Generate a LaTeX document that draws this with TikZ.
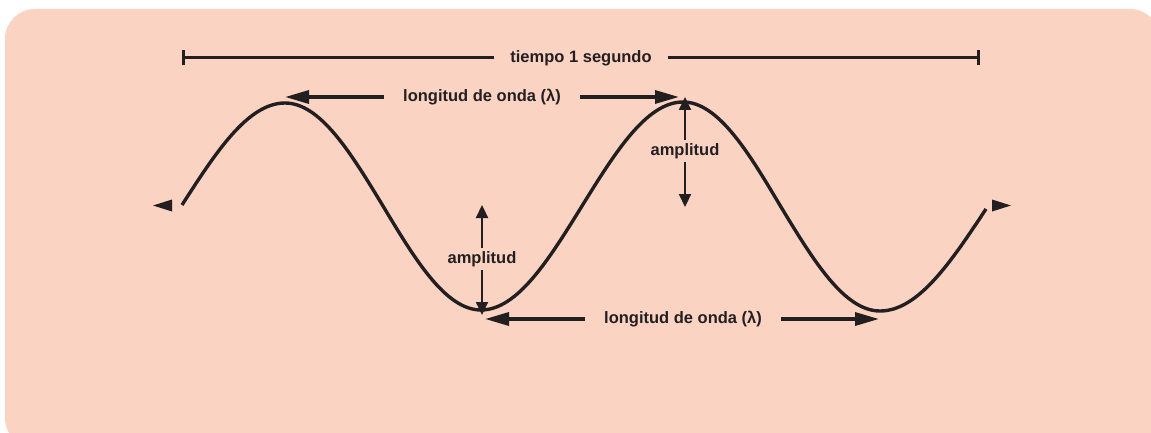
\documentclass[tikz,border=0pt]{standalone}
\usepackage{fontspec}
\setmainfont{Liberation Sans}
\usetikzlibrary{positioning,arrows.meta}
\definecolor{peach}{RGB}{251,211,194}
\definecolor{ink}{RGB}{35,31,32}
\tikzset{
  every picture/.style={line width=3pt},
  lbl/.style={font=\fontsize{16.5}{19}\selectfont\bfseries,text=ink,inner xsep=18pt,inner ysep=2pt},
  wave/.style={draw=ink,line width=3.4pt},
  span/.style={draw=ink,line width=3.4pt,-{Triangle[length=24pt,width=13pt]}},
  amp/.style={draw=ink,line width=2.2pt,-{Triangle[length=13pt,width=12pt]}},
  tbar/.style={draw=ink,line width=3pt,-{Bar[width=15pt]}},
  tip/.style={fill=ink},
}

\begin{document}
\begin{tikzpicture}[x=1pt,y=-1pt]
\clip (0,0) rectangle (1151,433);
% background panel
\fill[peach,rounded corners=30pt] (5,9) rectangle (1160,448);
% wave points
\coordinate (w0) at (182,205);
\coordinate (pk1) at (285,103);
\coordinate (z1) at (383,206);
\coordinate (tr1) at (481,310);
\coordinate (z2) at (582,206);
\coordinate (pk2) at (683,102);
\coordinate (z3) at (781,207);
\coordinate (tr2) at (880,311);
\coordinate (w1) at (986,209);
\draw[wave] (w0) sin (pk1) cos (z1) sin (tr1) cos (z2) sin (pk2) cos (z3) sin (tr2) cos (w1);
% end marks
\fill[tip] (172,199.5) -- (153,205.5) -- (172,211.5) -- cycle;
\fill[tip] (992,199.5) -- (1011,205.5) -- (992,211.5) -- cycle;
% time bar
\node[lbl,inner xsep=15pt] (ts) at (581,58) {tiempo 1 segundo};
\coordinate (t0) at (182,58);
\coordinate (t1) at (980,58);
\draw[tbar] (ts.west) -- (t0);
\draw[tbar] (ts.east) -- (t1);
% wavelengths
\node[lbl] (lo1) at (482,97) {longitud de onda (λ)};
\coordinate (a0) at (285,97);
\coordinate (a1) at (679,97);
\draw[span] (lo1.west) -- (a0);
\draw[span] (lo1.east) -- (a1);
\node[lbl] (lo2) at (683,319) {longitud de onda (λ)};
\coordinate (b0) at (485,319);
\coordinate (b1) at (879,319);
\draw[span] (lo2.west) -- (b0);
\draw[span] (lo2.east) -- (b1);
% amplitudes
\node[lbl,inner xsep=2pt] (am1) at (685,151) {amplitud};
\coordinate (c0) at (685,97);
\coordinate (c1) at (685,207);
\draw[amp] (am1.north) -- (c0);
\draw[amp] (am1.south) -- (c1);
\node[lbl,inner xsep=2pt] (am2) at (482,259) {amplitud};
\coordinate (d0) at (482,205);
\coordinate (d1) at (482,315);
\draw[amp] (am2.north) -- (d0);
\draw[amp] (am2.south) -- (d1);
\end{tikzpicture}
\end{document}
